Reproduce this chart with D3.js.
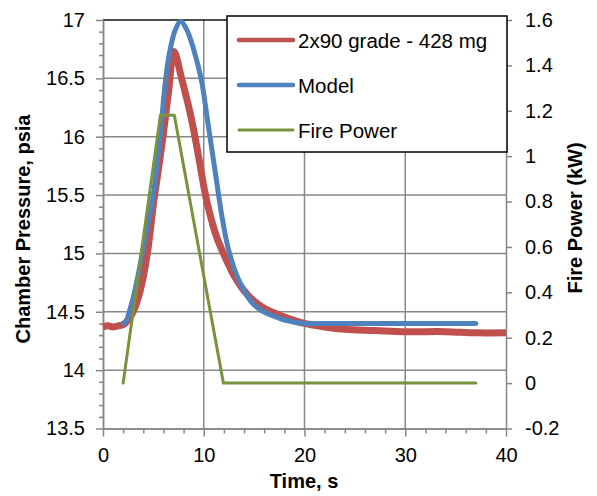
<!DOCTYPE html>
<html>
<head>
<meta charset="utf-8">
<script src="https://cdn.jsdelivr.net/npm/d3@7"></script>
<style>
  html, body { margin: 0; padding: 0; background: #fff; }
  svg { display: block; font-family: "Liberation Sans", Arial, sans-serif; }
</style>
</head>
<body>
<svg id="chart" width="597" height="496"></svg>
<script>
// ---------- data ----------
const dataTime = [0, 0.5, 1, 1.5, 2, 2.5, 3, 3.5, 4, 4.5, 5, 5.5, 6, 6.5, 7.05, 7.8, 8.63, 9.13, 9.63, 10.1, 10.6, 11.2, 12.0, 13.0, 14.0, 15.0, 16.0, 17.0, 18.5, 20, 22, 24, 27, 30, 34, 37, 40];
const dataPressure = [14.37, 14.38, 14.37, 14.38, 14.39, 14.43, 14.50, 14.62, 14.80, 15.06, 15.42, 15.72, 16.03, 16.38, 16.73, 16.50, 16.21, 16.00, 15.76, 15.53, 15.34, 15.16, 14.99, 14.81, 14.68, 14.59, 14.53, 14.49, 14.44, 14.40, 14.37, 14.35, 14.34, 14.33, 14.33, 14.32, 14.32];

const modelTime = [2.0, 2.3, 2.6, 3.0, 3.5, 3.9, 4.5, 5.0, 5.4, 5.7, 6.0, 6.3, 6.65, 7.15, 7.7, 8.3, 8.96, 9.8, 10.29, 10.79, 11.29, 11.78, 12.44, 13.43, 14.76, 15.75, 17, 18, 20, 22, 25, 30, 37];
const modelPressure = [14.40, 14.42, 14.50, 14.62, 14.82, 15.00, 15.27, 15.50, 15.79, 16.03, 16.31, 16.55, 16.74, 16.91, 16.99, 16.92, 16.76, 16.47, 16.19, 15.90, 15.61, 15.33, 15.04, 14.78, 14.58, 14.51, 14.46, 14.43, 14.40, 14.40, 14.40, 14.40, 14.40];

const fireTime = [2.0, 5.7, 7.08, 11.95, 37];
const firePower = [0, 1.18, 1.18, 0, 0];

const xTicks = [0, 10, 20, 30, 40];
const xMinorTicks = [2, 4, 6, 8, 12, 14, 16, 18, 22, 24, 26, 28, 32, 34, 36, 38];
const leftTicks = [13.5, 14, 14.5, 15, 15.5, 16, 16.5, 17];
const leftMinorTicks = d3.range(136, 170).map(v => v / 10).filter(v => Math.abs(v * 2 - Math.round(v * 2)) > 1e-6);
const rightTicks = [-0.2, 0, 0.2, 0.4, 0.6, 0.8, 1, 1.2, 1.4, 1.6];

const seriesNames = ["2x90 grade - 428 mg", "Model", "Fire Power"];
const seriesColors = ["#C0504D", "#4F81BD", "#77933C"];

const xTitle = "Time, s";
const leftTitle = "Chamber Pressure, psia";
const rightTitle = "Fire Power (kW)";

// ---------- layout ----------
const svg = d3.select("#chart");
const L = 103, R = 506, T = 20, B = 428.5;
const x = d3.scaleLinear().domain([0, 40]).range([L, R]);
const yL = d3.scaleLinear().domain([13.5, 17]).range([B, T]);
const yR = d3.scaleLinear().domain([-0.2, 1.6]).range([B, T]);
const gridColor = "#898989";
const axisColor = "#868686";

// gridlines
svg.append("g").selectAll("line").data(leftTicks.filter(v => v > 13.5 && v < 17)).join("line")
  .attr("x1", L).attr("x2", R).attr("y1", d => yL(d)).attr("y2", d => yL(d))
  .attr("stroke", gridColor).attr("stroke-width", 1.5);
svg.append("g").selectAll("line").data(xTicks.filter(v => v > 0 && v < 40)).join("line")
  .attr("x1", d => x(d)).attr("x2", d => x(d)).attr("y1", T).attr("y2", B)
  .attr("stroke", gridColor).attr("stroke-width", 1.5);
// top line
svg.append("line").attr("x1", L).attr("x2", R).attr("y1", yL(17)).attr("y2", yL(17))
  .attr("stroke", "#111").attr("stroke-width", 1.5);

// axes
function styleAxis(g) {
  g.select(".domain").attr("stroke", axisColor).attr("stroke-width", 1.5);
  g.selectAll(".tick line").attr("stroke", axisColor).attr("stroke-width", 1.5);
  g.selectAll(".tick text").attr("fill", "#000").attr("font-size", 20)
   .attr("font-family", "'Liberation Sans', Arial, sans-serif");
}
// minor ticks
svg.append("g").attr("transform", `translate(${L},0)`)
  .call(d3.axisLeft(yL).tickValues(leftMinorTicks).tickSize(4).tickSizeOuter(0).tickFormat(""))
  .call(styleAxis);
svg.append("g").attr("transform", `translate(0,${B})`)
  .call(d3.axisBottom(x).tickValues(xMinorTicks).tickSize(5).tickSizeOuter(0).tickFormat(""))
  .call(styleAxis);
// major
svg.append("g").attr("transform", `translate(${L},0)`)
  .call(d3.axisLeft(yL).tickValues(leftTicks).tickSize(7).tickSizeOuter(0).tickPadding(11).tickFormat(d => String(d)))
  .call(styleAxis);
svg.append("g").attr("transform", `translate(0,${B})`)
  .call(d3.axisBottom(x).tickValues(xTicks).tickSize(8).tickSizeOuter(0).tickPadding(11).tickFormat(d => String(d)))
  .call(styleAxis);
svg.append("g").attr("transform", `translate(${R},0)`)
  .call(d3.axisRight(yR).tickValues(rightTicks).tickSize(6).tickSizeOuter(0).tickPadding(13).tickFormat(d => String(+d.toFixed(1))))
  .call(styleAxis);

// series
const dataPts = dataTime.map((t, i) => [t, dataPressure[i]]);
const modelPts = modelTime.map((t, i) => [t, modelPressure[i]]);
const firePts = fireTime.map((t, i) => [t, firePower[i]]);

const lineL = d3.line().x(d => x(d[0])).y(d => yL(d[1])).curve(d3.curveCatmullRom.alpha(0.5));
const lineR = d3.line().x(d => x(d[0])).y(d => yR(d[1]));

svg.append("path").datum(dataPts).attr("d", lineL).attr("fill", "none")
  .attr("stroke", seriesColors[0]).attr("stroke-width", 7).attr("stroke-linejoin", "round");
svg.append("path").datum(modelPts).attr("d", lineL).attr("fill", "none")
  .attr("stroke", seriesColors[1]).attr("stroke-width", 5).attr("stroke-linecap", "round").attr("stroke-linejoin", "round");
svg.append("path").datum(firePts).attr("d", lineR).attr("fill", "none")
  .attr("stroke", seriesColors[2]).attr("stroke-width", 3).attr("stroke-linecap", "round").attr("stroke-linejoin", "round");

// legend
const lg = svg.append("g");
lg.append("rect").attr("x", 227).attr("y", 16).attr("width", 280).attr("height", 136)
  .attr("fill", "#fff").attr("stroke", "#000").attr("stroke-width", 1.5);
const legY = [40, 85, 130];
const legW = [4.5, 4.5, 3];
seriesNames.forEach((name, i) => {
  lg.append("line").attr("x1", 239).attr("x2", 293).attr("y1", legY[i]).attr("y2", legY[i])
    .attr("stroke", seriesColors[i]).attr("stroke-width", legW[i]).attr("stroke-linecap", "round");
  lg.append("text").attr("x", 298).attr("y", legY[i] + 7.5).attr("font-size", 20.5).attr("fill", "#000").text(name);
});

// titles
svg.append("text").attr("x", 304).attr("y", 488).attr("text-anchor", "middle")
  .attr("font-size", 20).attr("font-weight", "bold").text(xTitle);
svg.append("text").attr("transform", "translate(30,229) rotate(-90)").attr("text-anchor", "middle")
  .attr("font-size", 20).attr("font-weight", "bold").text(leftTitle);
svg.append("text").attr("transform", "translate(582,218) rotate(-90)").attr("text-anchor", "middle")
  .attr("font-size", 20).attr("font-weight", "bold").text(rightTitle);
</script>
</body>
</html>
